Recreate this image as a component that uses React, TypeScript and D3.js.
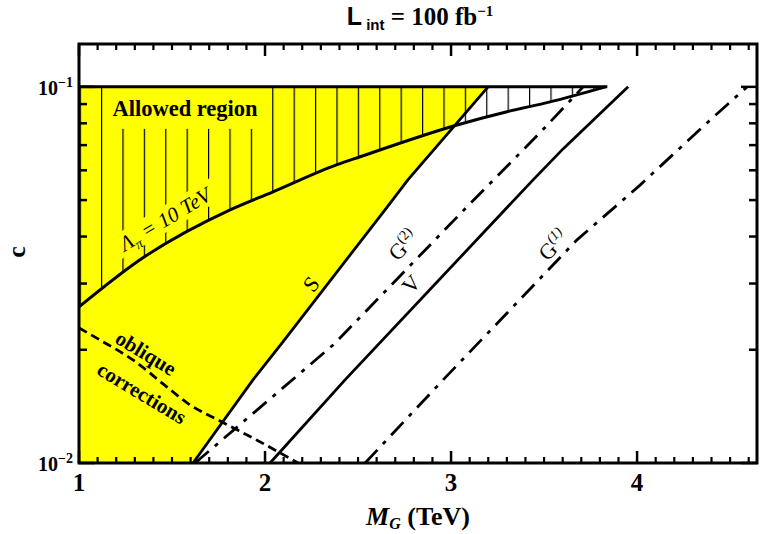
import React from "react";
import * as d3 from "d3";

// ---- data ----
const X_MAJOR = [1, 2, 3, 4];
const Y_MAJOR = [0.01, 0.1];
const Y_MAJOR_EXP = ["−2", "−1"];
const Y_MINOR = [0.02, 0.03, 0.04, 0.05, 0.06, 0.07, 0.08, 0.09];

// S boundary (right edge of allowed yellow region)
const S_M = [1.613, 1.935, 2.091, 2.645, 2.769, 3.199];
const S_C = [0.01, 0.01663, 0.02084, 0.04711, 0.05666, 0.1];

// Lambda_pi = 10 TeV curve
const LAM_M = [1.0, 1.328, 1.812, 2.043, 2.387, 2.511, 3.032, 3.301, 3.532, 3.83];
const LAM_C = [0.026, 0.0347, 0.0471, 0.0526, 0.0621, 0.0652, 0.0792, 0.0859, 0.0912, 0.1];

// oblique corrections (dashed)
const OB_M = [1.0, 1.113, 1.29, 1.473, 1.581, 1.769, 1.957, 2.177];
const OB_C = [0.02286, 0.02123, 0.01879, 0.01592, 0.01445, 0.01285, 0.0115, 0.01];

// G(2) dash-dot
const G2_M = [1.624, 2.371, 3.086, 3.478, 3.71];
const G2_C = [0.01, 0.0207, 0.048, 0.0755, 0.1];

// V solid
const V_M = [2.027, 2.43, 3.441, 3.602, 3.952];
const V_C = [0.01, 0.01663, 0.0566, 0.0684, 0.1];

// G(1) dash-dot
const G1_M = [2.538, 2.957, 3.677, 4.016, 4.376, 4.591];
const G1_C = [0.01, 0.01663, 0.0392, 0.0548, 0.0802, 0.1];

const TOP_C = 0.1;
const TOP_END_M = 3.84;

const W = 763;
const H = 534;
const L = 79, R = 757, T = 44, B = 463;
const SERIF = "'Liberation Serif', 'Times New Roman', serif";
const SANS = "'Liberation Sans', Arial, sans-serif";

const x = d3.scaleLinear().domain([1, 4.65]).range([L, R + 1]);
const y = d3.scaleLog().domain([0.01, 0.13]).range([B, T]);

const pts = (ms: number[], cs: number[]) => ms.map((m, i) => [m, cs[i]] as [number, number]);

export default function App() {
  const line = d3.line<[number, number]>().x((d) => x(d[0])).y((d) => y(d[1]));
  const smooth = d3.line<[number, number]>().x((d) => x(d[0])).y((d) => y(d[1])).curve(d3.curveMonotoneX);

  const sPts = pts(S_M, S_C);
  const lamPts = pts(LAM_M, LAM_C);

  const yellow: [number, number][] = [[1, 0.01], [1, TOP_C], ...sPts.slice().reverse()];
  const hatchPath = smooth(lamPts)! + `L${x(TOP_END_M)},${y(TOP_C)}L${x(1)},${y(TOP_C)}Z`;

  const xMinor = d3.range(11, 47).map((i) => i / 10).filter((v) => Math.abs(v - Math.round(v)) > 1e-6);
  const hatchStep = 21.4;

  const label = (cx: number, cy: number, angle: number, content: React.ReactNode, opts: any = {}) => (
    <g transform={`translate(${cx},${cy}) rotate(${angle})`}>
      {opts.knock && (
        <rect x={-opts.knock[0] / 2} y={-opts.knock[1] / 2} width={opts.knock[0]} height={opts.knock[1]} fill="#ffff00" />
      )}
      <text
        textAnchor="middle"
        dy="0.35em"
        fontFamily={SERIF}
        fontSize={opts.size || 20}
        fontWeight={opts.bold ? "bold" : "normal"}
        fontStyle={opts.italic ? "italic" : "normal"}
      >
        {content}
      </text>
    </g>
  );

  return (
    <svg width={W} height={H} style={{ position: "absolute", left: 0, top: 0, background: "#fff" }}>
      <defs>
        <pattern id="hatch" patternUnits="userSpaceOnUse" x={x(1) + 22} y={0} width={hatchStep} height={10}>
          <line x1={0.6} y1={0} x2={0.6} y2={10} stroke="#000" strokeWidth={1.2} />
        </pattern>
      </defs>

      <path d={line(yellow)! + "Z"} fill="#ffff00" stroke="none" />
      <path d={hatchPath} fill="url(#hatch)" stroke="none" />

      <rect x={110} y={y(TOP_C) + 1} width={151} height={41} fill="#ffff00" />
      <text x={185} y={116} textAnchor="middle" fontFamily={SERIF} fontWeight="bold" fontSize={22.5}>
        Allowed region
      </text>

      {label(165, 219, -31, (
        <>
          <tspan>Λ</tspan>
          <tspan fontSize={14} dy={5}>π</tspan>
          <tspan dy={-5}> = 10 TeV</tspan>
        </>
      ), { italic: true, size: 21, knock: [126, 24] })}

      <path d={smooth(lamPts)!} fill="none" stroke="#000" strokeWidth={3} />
      <line x1={x(1)} x2={x(TOP_END_M)} y1={y(TOP_C)} y2={y(TOP_C)} stroke="#000" strokeWidth={3} />
      <path d={line(sPts)!} fill="none" stroke="#000" strokeWidth={2.8} />
      <path d={smooth(pts(OB_M, OB_C))!} fill="none" stroke="#000" strokeWidth={2.8} strokeDasharray="9,5" />
      <path d={line(pts(G2_M, G2_C))!} fill="none" stroke="#000" strokeWidth={2.8} strokeDasharray="18,8,4,8" />
      <path d={line(pts(V_M, V_C))!} fill="none" stroke="#000" strokeWidth={2.8} />
      <path d={line(pts(G1_M, G1_C))!} fill="none" stroke="#000" strokeWidth={2.8} strokeDasharray="18,8,4,8" />

      <rect x={L} y={T} width={R - L} height={B - T} fill="none" stroke="#000" strokeWidth={3} />

      {X_MAJOR.map((v) => (
        <g key={"xM" + v}>
          <line x1={x(v)} x2={x(v)} y1={B} y2={B - 12} stroke="#000" strokeWidth={2.5} />
          <line x1={x(v)} x2={x(v)} y1={T} y2={T + 12} stroke="#000" strokeWidth={2.5} />
          <text x={x(v)} y={491} textAnchor="middle" fontFamily={SERIF} fontWeight="bold" fontSize={25}>
            {v}
          </text>
        </g>
      ))}
      {xMinor.map((v) => (
        <g key={"xm" + v}>
          <line x1={x(v)} x2={x(v)} y1={B} y2={B - 6} stroke="#000" strokeWidth={2.2} />
          <line x1={x(v)} x2={x(v)} y1={T} y2={T + 6} stroke="#000" strokeWidth={2.2} />
        </g>
      ))}
      {Y_MINOR.map((v) => (
        <g key={"ym" + v}>
          <line x1={L} x2={L + 8} y1={y(v)} y2={y(v)} stroke="#000" strokeWidth={2.5} />
          <line x1={R} x2={R - 8} y1={y(v)} y2={y(v)} stroke="#000" strokeWidth={2.5} />
        </g>
      ))}
      {Y_MAJOR.map((v, i) => (
        <g key={"yM" + v}>
          <line x1={L} x2={L + 16} y1={y(v)} y2={y(v)} stroke="#000" strokeWidth={2.5} />
          <line x1={R} x2={R - 16} y1={y(v)} y2={y(v)} stroke="#000" strokeWidth={2.5} />
          <text x={73} y={y(v) + 8} textAnchor="end" fontFamily={SERIF} fontWeight="bold" fontSize={20}>
            10<tspan fontSize={14} dy={-8}>{Y_MAJOR_EXP[i]}</tspan>
          </text>
        </g>
      ))}

      {label(146, 353, 31, "oblique", { bold: true, size: 21 })}
      {label(142, 393, 31, "corrections", { bold: true, size: 21 })}
      {label(311, 284, -52, "S", { size: 22 })}
      {label(403, 245, -47, (
        <>
          <tspan>G</tspan>
          <tspan fontSize={14} dy={-9}>(2)</tspan>
        </>
      ), { size: 22 })}
      {label(411, 284, -47, "V", { size: 22 })}
      {label(553, 245, -47, (
        <>
          <tspan>G</tspan>
          <tspan fontSize={14} dy={-9} fontStyle="italic">(1)</tspan>
        </>
      ), { size: 22 })}

      <text x={420} y={25} textAnchor="middle" fontWeight="bold" fontSize={25}>
        <tspan fontFamily={SANS}>L</tspan>
        <tspan fontFamily={SANS} fontSize={15} dy={5}> int</tspan>
        <tspan fontFamily={SERIF} dy={-5}> = 100 fb</tspan>
        <tspan fontFamily={SERIF} fontSize={15} dy={-9}>−1</tspan>
      </text>

      <text x={418} y={525} textAnchor="middle" fontFamily={SERIF} fontWeight="bold" fontSize={26}>
        <tspan fontStyle="italic">M</tspan>
        <tspan fontStyle="italic" fontSize={16} dy={4}>G</tspan>
        <tspan dy={-4}> (TeV)</tspan>
      </text>
      <text transform="translate(25,252) rotate(-90)" textAnchor="middle" fontFamily={SERIF} fontWeight="bold" fontSize={26}>
        c
      </text>
    </svg>
  );
}
